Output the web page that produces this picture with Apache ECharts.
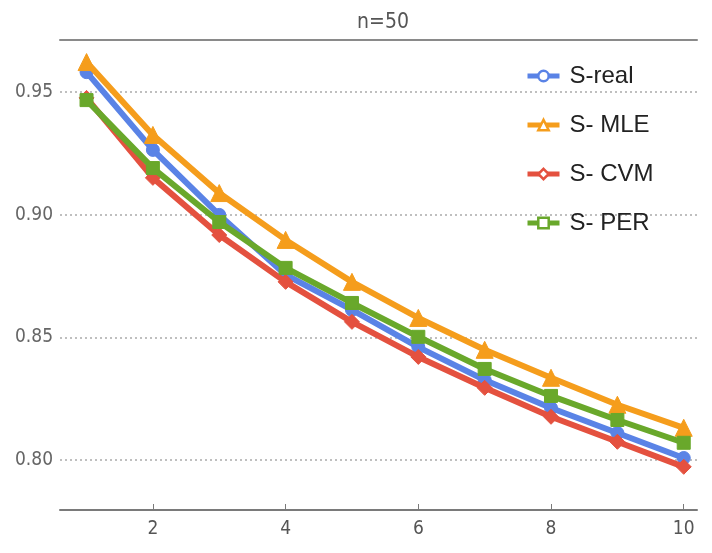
<!DOCTYPE html>
<html><head><meta charset="utf-8">
<script src="https://cdn.jsdelivr.net/npm/echarts@6/dist/echarts.min.js"></script>
<style>html,body{margin:0;padding:0;background:#fff}#c{width:712px;height:553px}</style>
</head><body><div id="c"></div>
<script>
const xs = [1,2,3,4,5,6,7,8,9,10];
const sReal = [0.9581,0.9264,0.8999,0.8755,0.8612,0.8460,0.8326,0.8212,0.8110,0.8008];
const sMLE  = [0.9622,0.9325,0.9088,0.8897,0.8726,0.8579,0.8449,0.8335,0.8225,0.8131];
const sCVM  = [0.9476,0.9150,0.8917,0.8726,0.8563,0.8420,0.8294,0.8176,0.8074,0.7972];
const sPER  = [0.9467,0.9190,0.8970,0.8783,0.8640,0.8502,0.8371,0.8261,0.8163,0.8070];
const names = ['S-real','S- MLE','S- CVM','S- PER'];
const xTicks = [2,4,6,8,10];
const yTicks = [0.80,0.85,0.90,0.95];
const title = 'n=50';

const colors = ['#5a83e6','#f59d1c','#e4513f','#69a82b'];
const symbols = ['circle','triangle','diamond','rect'];
const sizes = [13,17,15,13];
const dataSets = [sReal,sMLE,sCVM,sPER];
const condensed = '"Liberation Sans Narrow","DejaVu Sans Condensed",sans-serif';

const chart = echarts.init(document.getElementById('c'));
chart.setOption({
  animation:false,
  backgroundColor:'#fff',
  title:{text:title,left:378,textAlign:'center',top:7,textStyle:{fontFamily:condensed,fontWeight:'normal',fontSize:21,color:'#555'}},
  legend:{
    orient:'vertical',left:525,top:64,padding:0,itemWidth:32,itemHeight:13,itemGap:25,
    textStyle:{fontFamily:'"Liberation Sans",Arial,sans-serif',fontSize:24,lineHeight:24,color:'#222',padding:[0,0,0,5]},
    itemStyle:{color:'#fff',borderWidth:2.5},
    lineStyle:{width:5},
    data:names
  },
  grid:{left:60,right:15,top:40,bottom:43},
  xAxis:[{
    type:'value',min:0.6,max:10.2,
    axisLine:{show:true,lineStyle:{color:'#7a7a7a',width:2}},
    axisTick:{show:true,inside:true,length:6,customValues:xTicks,lineStyle:{color:'#7a7a7a',width:1}},
    axisLabel:{customValues:xTicks,fontFamily:condensed,fontSize:19,color:'#555',margin:10},
    splitLine:{show:false}
  },{
    type:'value',position:'top',min:0.6,max:10.2,
    axisLine:{show:true,lineStyle:{color:'#8a8a8a',width:2}},
    axisTick:{show:false},axisLabel:{show:false},splitLine:{show:false}
  }],
  yAxis:{
    type:'value',min:0.7796,max:0.9712,
    axisLine:{show:false},
    axisTick:{show:false,customValues:yTicks},
    axisLabel:{customValues:yTicks,formatter:v=>v.toFixed(2),fontFamily:condensed,fontSize:19,color:'#666',margin:7},
    splitLine:{show:true,lineStyle:{color:'#aaa',type:[2,3],width:1.5}}
  },
  series:dataSets.map((d,i)=>({
    name:names[i],type:'line',
    data:xs.map((x,j)=>[x,d[j]]),
    symbol:symbols[i],symbolSize:sizes[i],showSymbol:true,
    lineStyle:{color:colors[i],width:6},
    itemStyle:{color:colors[i],borderColor:colors[i]},
    z:2+i
  }))
});
</script></body></html>
